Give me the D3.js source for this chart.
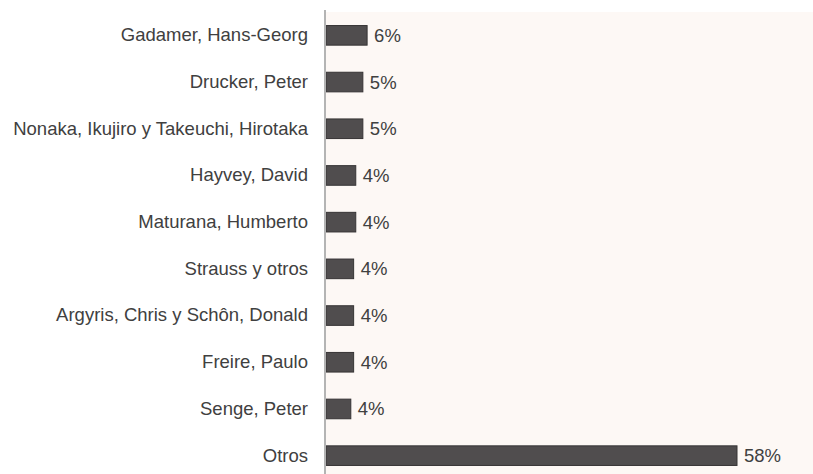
<!DOCTYPE html>
<html>
<head>
<meta charset="utf-8">
<script src="https://cdn.jsdelivr.net/npm/d3@7"></script>
<style>
  body { margin: 0; background: #ffffff; }
  svg { display: block; }
</style>
</head>
<body>
<script>
var authors = [
  'Gadamer, Hans-Georg',
  'Drucker, Peter',
  'Nonaka, Ikujiro y Takeuchi, Hirotaka',
  'Hayvey, David',
  'Maturana, Humberto',
  'Strauss y otros',
  'Argyris, Chris y Schôn, Donald',
  'Freire, Paulo',
  'Senge, Peter',
  'Otros'
];
var shares = [5.8, 5.2, 5.2, 4.2, 4.2, 3.9, 3.9, 3.9, 3.5, 58];
var shareLabels = ['6%', '5%', '5%', '4%', '4%', '4%', '4%', '4%', '4%', '58%'];

var w = 813;
var h = 474;
var plotLeft = 326;
var plotTop = 12;

var svg = d3.select('body')
  .append('svg')
  .attr('width', w)
  .attr('height', h);

/* ===== plot background ===== */
svg.append('rect')
  .attr('x', plotLeft)
  .attr('y', plotTop)
  .attr('width', w - plotLeft)
  .attr('height', h - plotTop)
  .attr('fill', '#fdf8f5');

/* ===== scales ===== */
var xScale = d3.scaleLinear()
  .domain([0, 58])
  .range([plotLeft, 737]);

var yScale = d3.scaleBand()
  .domain(authors)
  .range([plotTop, 479])
  .paddingInner(0.58)
  .paddingOuter(0.29);

var rows = authors.map(function(a, i) {
  return { name: a, value: shares[i], label: shareLabels[i] };
});

/* ===== bars ===== */
svg.selectAll('rect.bar').data(rows)
  .enter()
  .append('rect')
  .attr('class', 'bar')
  .attr('x', xScale(0))
  .attr('y', function(d) { return yScale(d.name); })
  .attr('width', function(d) { return xScale(d.value) - xScale(0); })
  .attr('height', yScale.bandwidth())
  .attr('fill', '#504d4e')
  .attr('stroke', '#363435')
  .attr('stroke-width', 1);

/* ===== axis ===== */
var yAxis = d3.axisLeft(yScale).tickSize(0).tickPadding(17);

var gy = svg.append('g')
  .attr('transform', 'translate(' + (plotLeft - 1) + ',0)')
  .call(yAxis);

gy.select('.domain').remove();
gy.append('line')
  .attr('x1', 0).attr('x2', 0)
  .attr('y1', 10).attr('y2', h)
  .attr('stroke', '#b4b4b4')
  .attr('stroke-width', 2);

gy.selectAll('text')
  .attr('fill', '#404040')
  .style('font-family', 'Liberation Sans, Arial, sans-serif')
  .style('font-size', '18.5px');

/* ===== value labels ===== */
svg.selectAll('text.val').data(rows)
  .enter()
  .append('text')
  .attr('class', 'val')
  .attr('x', function(d) { return xScale(d.value) + 7; })
  .attr('y', function(d) { return yScale(d.name) + yScale.bandwidth() / 2; })
  .attr('dy', '0.35em')
  .attr('fill', '#404040')
  .style('font-family', 'Liberation Sans, Arial, sans-serif')
  .style('font-size', '18.5px')
  .text(function(d) { return d.label; });
</script>
</body>
</html>
